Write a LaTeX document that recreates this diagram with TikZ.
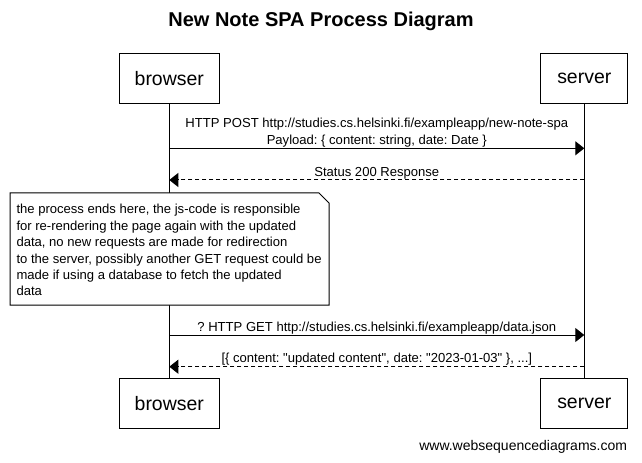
\documentclass[tikz,border=0pt]{standalone}
\usepackage{fontspec}
\setmainfont{Liberation Sans}[Ligatures=TeXOff]
\usetikzlibrary{arrows.meta}
\frenchspacing

\begin{document}
\begin{tikzpicture}[x=0.75pt,y=-0.75pt,line width=0.75pt,
    actor/.style={draw,minimum width=#1,minimum height=37.5pt,inner sep=0pt,font=\fontsize{14.6}{16}\selectfont},
    msg/.style={-{Triangle[length=6.75pt,width=10.5pt]}},
    reply/.style={msg,dash pattern=on 3pt off 2.25pt},
    lbl/.style={font=\fontsize{9.8}{12.6}\selectfont,align=center,inner sep=0.5pt}]
    % cadre
    \useasboundingbox (0,0) rectangle (642,463);
    \node[font=\bfseries\fontsize{15}{18}\selectfont] (title) at (321,21) {New Note SPA Process Diagram};
    % participants
    \node[actor=75pt] (btop) at (169.3,78.3) {browser};
    \node[actor=65.25pt] (stop) at (584.3,78.3) {server};
    \node[actor=75pt] (bbot) at (169.3,403.8) {browser};
    \node[actor=65.25pt] (sbot) at (584.3,403.8) {server};
    \draw (btop) -- (bbot);
    \draw (stop) -- (sbot);
    % points on the lifelines
    \foreach \y [count=\i] in {148.3,180,335,366.7}{
        \coordinate (b\i) at (169.3,\y);
        \coordinate (s\i) at (584.3,\y);
    }
    \draw[msg] (b1) -- (s1) node[lbl,midway,above] {HTTP POST http://studies.cs.helsinki.fi/exampleapp/new-note-spa\\Payload: \{ content: string, date: Date \}};
    \draw[reply] (s2) -- (b2) node[lbl,midway,above] {Status 200 Response};
    % note
    \filldraw[fill=white] (10,193) -- (319,193) -- (329,203) -- (329,305) -- (10,305) -- cycle;
    \node[anchor=north west,inner sep=0pt,align=left,font=\fontsize{9.8}{12.3}\selectfont] (note) at (16,204) {the process ends here, the js-code is responsible\\for re-rendering the page again with the updated\\data, no new requests are made for redirection\\to the server, possibly another GET request could be\\made if using a database to fetch the updated\\data};
    \draw[msg] (b3) -- (s3) node[lbl,midway,above] {? HTTP GET http://studies.cs.helsinki.fi/exampleapp/data.json};
    \draw[reply] (s4) -- (b4) node[lbl,midway,above] {[\{ content: "updated content", date: "2023-01-03" \}, ...]};
    \node[anchor=east,font=\fontsize{10.5}{12}\selectfont] (footer) at (632,447) {www.websequencediagrams.com};
\end{tikzpicture}
\end{document}
